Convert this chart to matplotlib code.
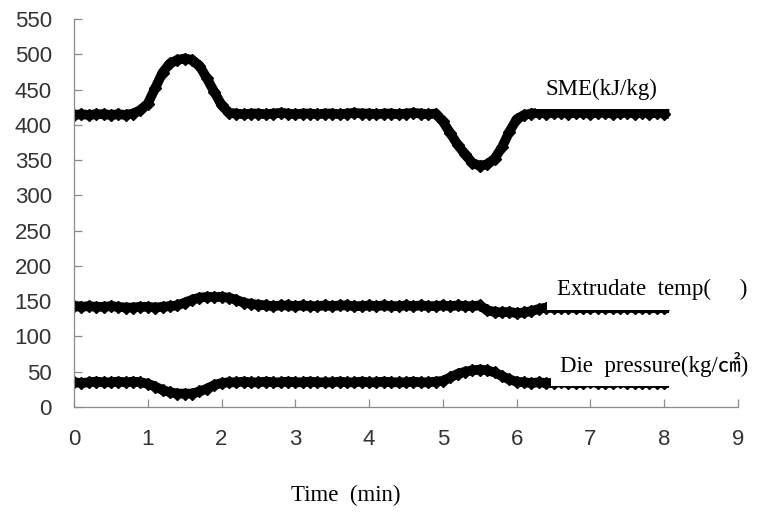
import numpy as np
import matplotlib.pyplot as plt

# sampling times (min), one reading every 0.1 min
time_min = np.arange(81) / 10

sme = [414, 415, 414, 415, 415, 414, 415, 414, 416,
       421, 430, 452, 474, 487, 492, 494, 492, 484, 466, 447, 428, 417,
       416, 415, 416, 416, 415, 416, 417, 416, 415, 416, 416, 415, 416, 416,
       415, 416, 417, 416, 416, 415, 416, 416, 415, 416, 417, 416, 415, 416,
       405, 388, 372, 358, 346, 342, 344, 352, 368, 390, 408, 414, 416,
       417, 416, 417, 417, 416, 417, 417, 416, 417, 417, 416, 417, 417, 416,
       417, 416, 417, 416]

extrudate_temp = [143, 142, 143, 142, 142, 143, 142, 141, 141, 142, 142, 141, 142, 143,
                  144, 148, 152, 155, 156, 156, 156, 155, 152, 148, 146, 145,
                  144, 143, 144, 144, 143, 144, 143, 143, 144, 143, 144, 144, 143, 143,
                  144, 143, 144, 143, 143, 144, 143, 144, 143, 143, 144, 143, 144, 143,
                  143, 144,
                  137, 135, 134, 135, 133, 134, 136, 139, 141,
                  140, 140, 141, 140, 140, 140, 141, 140, 140, 140, 141, 140, 140, 140,
                  140, 140]

die_pressure = [35, 34, 35, 36, 35, 35, 36, 35, 36, 35,
                33, 29, 24, 21, 19, 19, 19, 22, 26, 31, 34, 35,
                35, 36, 35, 35, 36, 35, 35, 36, 35, 35, 36, 35, 35, 35, 36, 35,
                35, 36, 35, 35, 36, 35, 35, 35, 36, 35, 35, 36,
                37, 42, 47, 50, 52, 53, 52, 49, 44, 39, 36,
                35, 34, 35, 34, 34, 35, 34, 34, 34, 35, 34, 34, 34, 35, 34, 34, 34,
                34, 34, 34]

# series, label text, label anchor (x, y) in data units
series = [
    (sme, 'SME(kJ/kg)', 6.39, 450),
    (extrudate_temp, 'Extrudate  temp(     )', 6.54, 166),
    (die_pressure, 'Die  pressure(kg/\u33a0)', 6.59, 60),
]

serif = ['Liberation Serif', 'Noto Sans CJK KR']

fig = plt.figure(figsize=(7.61, 5.12), dpi=100)
ax = fig.add_axes([74 / 761, 1 - 407 / 512, 664 / 761, 388 / 512])

for vals, label, lx, ly in series:
    ax.plot(time_min, vals, color='black', lw=7, marker='D', ms=6,
            mfc='black', mec='black', zorder=2)
    # white box behind the label hides the top of the trace under it
    ax.text(lx, ly, label, family=serif, fontsize=16.5, ha='left', va='center',
            zorder=3, bbox=dict(boxstyle='square,pad=0.4', fc='white', ec='none'))

ax.set_xlim(0, 9)
ax.set_ylim(0, 550)
ax.set_xticks(range(10))
ax.set_yticks(range(0, 551, 50))
for side in ['top', 'right']:
    ax.spines[side].set_visible(False)
for side in ['left', 'bottom']:
    ax.spines[side].set_color('#8a8a8a')
    ax.spines[side].set_linewidth(0.9)
ax.tick_params(direction='in', length=6, width=0.9, color='#8a8a8a',
               labelsize=16, labelcolor='#333333')
ax.tick_params(axis='x', pad=16)
ax.tick_params(axis='y', pad=16)
for lab in ax.get_xticklabels() + ax.get_yticklabels():
    lab.set_family('Liberation Sans')

fig.text(346 / 761, 1 - 495 / 512, 'Time  (min)', family=serif, fontsize=16.5,
         ha='center', va='center')

fig.savefig('out.png', dpi=100)
